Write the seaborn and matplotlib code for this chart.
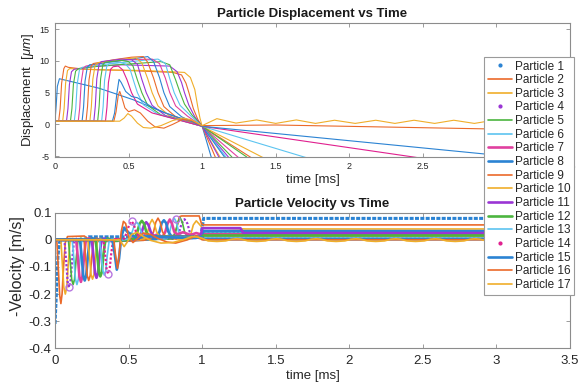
import matplotlib
matplotlib.use("Agg")
import matplotlib.pyplot as plt
from matplotlib.lines import Line2D
import seaborn as sns

sns.set_style("ticks")
plt.rcParams['font.family'] = ['Liberation Sans', 'DejaVu Sans']
plt.rcParams['axes.unicode_minus'] = False
plt.rcParams['mathtext.fontset'] = 'custom'
plt.rcParams['mathtext.it'] = 'Liberation Sans:italic'
plt.rcParams['mathtext.rm'] = 'Liberation Sans'

# --- data: (time [ms], value) knots per particle ---
PARTICLES = ["Particle %d" % i for i in range(1, 18)]

# displacement [um]
P1_DISP = [(0, 0.5), (0.008, 3.0), (0.016, 6.0), (0.03, 7.2), (0.3, 5.7), (0.53, 3.9), (0.76, 1.7),
           (1.0, -0.3), (1.062, -5.2), (1.1, -8.2)]
P2_DISP = [(0, 0.5), (0.025, 0.5), (0.035, 2.5), (0.045, 6.5), (0.06, 8.8), (0.07, 9.2), (0.09, 9.0),
           (0.2, 8.7), (0.5, 8.5), (0.8, 8.2), (0.86, 7.8), (0.89, 6.5), (0.91, 5.0), (0.94, 2.5),
           (0.97, 0.8), (1.0, -0.3), (1.09, -5.2), (1.12, -6.8)]
P3_DISP = [(0, 0.5), (0.052, 0.5), (0.062, 2.5), (0.072, 6.5), (0.085, 8.5), (0.1, 8.8), (0.3, 8.6),
           (0.6, 8.5), (0.88, 8.2), (0.92, 7.4), (0.95, 5.5), (0.97, 2.8), (0.985, 1.0), (1.0, -0.3),
           (1.12, -5.1), (1.15, -6.3)]
P4_DISP = [(0, 0.5), (0.078, 0.5), (0.088, 2.5), (0.098, 6.3), (0.112, 8.3), (0.13, 8.7), (0.25, 9.1),
           (0.45, 9.4), (0.78, 9.2), (0.83, 8.3), (0.86, 6.6), (0.88, 5.0), (0.91, 3.0), (0.95, 1.2),
           (1.0, -0.3), (1.18, -5.2), (1.2, -5.8)]
P5_DISP = [(0, 0.5), (0.105, 0.5), (0.115, 2.5), (0.125, 6.3), (0.14, 8.4), (0.16, 8.8), (0.3, 9.2),
           (0.55, 9.6), (0.72, 9.9), (0.78, 9.4), (0.82, 7.0), (0.85, 5.0), (0.88, 3.2), (0.93, 1.5),
           (1.0, -0.3), (1.2, -5.1), (1.22, -5.8)]
P6_DISP = [(0, 0.5), (0.131, 0.5), (0.141, 2.5), (0.151, 6.4), (0.166, 8.6), (0.185, 9.0), (0.35, 9.5),
           (0.6, 10.1), (0.7, 10.3), (0.75, 9.6), (0.78, 7.2), (0.81, 5.0), (0.85, 3.0), (0.92, 1.4),
           (1.0, -0.3), (1.16, -5.1), (1.18, -5.8)]
P7_DISP = [(0, 0.5), (0.158, 0.5), (0.168, 2.6), (0.178, 6.6), (0.193, 8.9), (0.21, 9.2), (0.35, 9.8),
           (0.5, 10.2), (0.66, 10.3), (0.71, 9.6), (0.75, 7.3), (0.78, 5.0), (0.82, 2.9), (0.9, 1.3),
           (1.0, -0.3), (1.245, -5.2), (1.27, -5.7)]
P8_DISP = [(0, 0.5), (0.184, 0.5), (0.194, 2.7), (0.204, 6.8), (0.219, 9.0), (0.235, 9.4), (0.4, 9.9),
           (0.55, 10.4), (0.63, 10.7), (0.67, 9.9), (0.71, 7.4), (0.74, 5.0), (0.78, 2.8), (0.86, 1.2),
           (1.0, -0.3), (1.15, -5.1), (1.17, -5.9)]
P9_DISP = [(0, 0.5), (0.211, 0.5), (0.221, 2.8), (0.231, 7.0), (0.246, 9.2), (0.26, 9.6), (0.4, 10.2),
           (0.52, 10.6), (0.6, 10.7), (0.63, 9.8), (0.67, 7.3), (0.70, 5.0), (0.74, 2.8), (0.82, 1.2),
           (1.0, -0.3), (1.33, -5.2), (1.35, -5.5)]
P10_DISP = [(0, 0.5), (0.237, 0.5), (0.247, 2.8), (0.257, 7.1), (0.272, 9.3), (0.29, 9.7), (0.42, 10.2),
            (0.55, 10.5), (0.59, 9.7), (0.63, 7.2), (0.66, 5.0), (0.70, 2.9), (0.78, 1.3), (1.0, -0.3),
            (1.41, -5.2), (1.43, -5.5)]
P11_DISP = [(0, 0.5), (0.264, 0.5), (0.274, 2.9), (0.284, 7.2), (0.299, 9.4), (0.315, 9.9), (0.45, 10.3),
            (0.52, 10.2), (0.56, 9.5), (0.59, 7.1), (0.62, 5.0), (0.66, 3.0), (0.75, 1.4), (1.0, -0.3),
            (1.11, -5.0), (1.13, -5.9)]
P12_DISP = [(0, 0.5), (0.29, 0.5), (0.3, 2.9), (0.31, 7.2), (0.325, 9.4), (0.34, 9.8), (0.45, 10.1),
            (0.5, 9.9), (0.53, 9.2), (0.56, 7.0), (0.59, 5.0), (0.63, 3.0), (0.72, 1.5), (1.0, -0.3),
            (1.3, -5.1), (1.32, -5.5)]
P13_DISP = [(0, 0.5), (0.317, 0.5), (0.327, 2.8), (0.337, 7.0), (0.352, 9.2), (0.37, 9.6), (0.44, 9.8),
            (0.48, 9.5), (0.51, 8.7), (0.535, 6.8), (0.56, 5.0), (0.6, 3.1), (0.7, 1.6), (1.0, -0.3),
            (1.7, -5.2), (1.75, -5.5)]
P14_DISP = [(0, 0.5), (0.343, 0.5), (0.353, 2.7), (0.363, 6.6), (0.378, 8.7), (0.395, 9.1), (0.43, 9.2),
            (0.46, 8.6), (0.49, 7.0), (0.52, 5.0), (0.56, 3.2), (0.66, 1.8), (1.0, -0.3), (2.45, -5.2),
            (2.5, -5.4)]
P15_DISP = [(0, 0.5), (0.39, 0.5), (0.405, 1.8), (0.42, 4.8), (0.435, 7.1), (0.45, 6.6), (0.48, 5.2),
            (0.52, 4.4), (0.56, 4.2), (0.6, 3.6), (0.66, 2.7), (0.75, 1.8), (0.85, 1.0), (0.93, 0.5),
            (1.0, -0.3), (3.5, -6.0)]
P16_DISP = [(0, 0.5), (0.40, 0.5), (0.415, 2.0), (0.43, 4.6), (0.44, 5.2), (0.455, 4.2), (0.475, 2.6),
            (0.5, 2.0), (0.54, 2.3), (0.58, 1.8), (0.63, 0.5), (0.68, -0.4), (0.74, -0.6), (0.8, 0.0),
            (0.87, 0.8), (0.93, 0.6), (1.0, -0.2), (1.5, -0.1), (2.9, -0.7), (3.5, -0.9)]
P17_DISP = [(0, 0.5), (0.44, 0.5), (0.47, 1.0), (0.495, 1.7), (0.52, 1.3), (0.56, 0.2), (0.6, -0.5),
            (0.65, -0.6), (0.72, -0.2), (0.8, 0.6), (0.87, 1.0), (0.93, 0.7), (1.0, -0.2), (1.1, 0.9),
            (1.23, 0.2), (1.37, 0.7), (1.5, 0.15), (1.64, 0.7), (1.77, 0.15), (1.9, 0.65), (2.04, 0.15),
            (2.18, 0.65), (2.31, 0.15), (2.44, 0.65), (2.58, 0.15), (2.71, 0.65), (2.85, 0.15),
            (2.98, 0.65), (3.12, 0.15), (3.25, 0.65), (3.38, 0.15), (3.5, 0.6)]

# -velocity [m/s]
P1_VEL = [(0, -0.31), (0.005, -0.25), (0.01, -0.19), (0.015, -0.12), (0.02, -0.06), (0.03, -0.01),
          (0.05, 0.0), (0.2, 0.002), (0.23, 0.011), (0.99, 0.011), (1.01, 0.079), (3.5, 0.079)]
P2_VEL = [(0, 0), (0.012, 0), (0.022, -0.1), (0.032, -0.205), (0.04, -0.235), (0.048, -0.2),
          (0.058, -0.1), (0.07, -0.01), (0.085, 0.012), (0.2, 0.014), (0.22, 0.004), (0.8, 0.004),
          (0.83, 0.05), (0.845, 0.085), (0.86, 0.088), (0.98, 0.088), (0.995, 0.06), (1.01, 0.055),
          (3.5, 0.055)]
P3_VEL = [(0, 0), (0.04, 0), (0.05, -0.09), (0.06, -0.175), (0.07, -0.2), (0.08, -0.175), (0.09, -0.09),
          (0.102, -0.008), (0.12, 0.005), (0.16, -0.003), (0.5, 0.001), (0.9, 0.003), (0.925, 0.025),
          (0.94, 0.055), (0.96, 0.07), (0.98, 0.058), (1.0, 0.045), (1.3, 0.04), (3.5, 0.04)]
P4_VEL = [(0, 0), (0.064, 0), (0.076, -0.08), (0.086, -0.155), (0.095, -0.175), (0.105, -0.155),
          (0.116, -0.08), (0.128, -0.008), (0.15, 0.006), (0.19, -0.004), (0.5, 0.002), (0.82, 0.004),
          (0.845, 0.03), (0.86, 0.06), (0.88, 0.076), (0.9, 0.06), (0.915, 0.03), (0.94, 0.01),
          (0.99, 0.008), (1.01, 0.027), (3.5, 0.027)]
P5_VEL = [(0, 0), (0.091, 0), (0.103, -0.075), (0.113, -0.145), (0.123, -0.165), (0.133, -0.145),
          (0.143, -0.075), (0.155, -0.008), (0.175, 0.006), (0.215, -0.004), (0.5, -0.002), (0.8, 0.004),
          (0.82, 0.03), (0.835, 0.065), (0.85, 0.082), (0.865, 0.065), (0.88, 0.03), (0.9, 0.012),
          (0.99, 0.008), (1.01, 0.024), (3.5, 0.024)]
P6_VEL = [(0, 0), (0.117, 0), (0.129, -0.075), (0.139, -0.145), (0.149, -0.165), (0.159, -0.145),
          (0.169, -0.075), (0.181, -0.008), (0.2, 0.006), (0.24, -0.004), (0.5, -0.003), (0.76, 0.004),
          (0.78, 0.03), (0.795, 0.065), (0.81, 0.08), (0.825, 0.065), (0.84, 0.03), (0.86, 0.012),
          (0.99, 0.009), (1.01, 0.03), (3.5, 0.03)]
P7_VEL = [(0, 0), (0.144, 0), (0.156, -0.07), (0.166, -0.136), (0.176, -0.155), (0.186, -0.136),
          (0.196, -0.07), (0.208, -0.008), (0.228, 0.006), (0.27, -0.004), (0.5, -0.003), (0.55, 0.012),
          (0.6, 0.022), (0.65, 0.012), (0.7, 0.02), (0.73, 0.01), (0.75, 0.03), (0.765, 0.06),
          (0.78, 0.075), (0.795, 0.06), (0.81, 0.03), (0.83, 0.02), (0.87, 0.028), (0.92, 0.018),
          (0.96, 0.025), (0.99, 0.02), (3.5, 0.02)]
P8_VEL = [(0, 0), (0.17, 0), (0.182, -0.068), (0.192, -0.132), (0.202, -0.15), (0.212, -0.132),
          (0.222, -0.068), (0.234, -0.008), (0.254, 0.006), (0.3, -0.004), (0.5, -0.003), (0.69, 0.004),
          (0.71, 0.03), (0.725, 0.062), (0.74, 0.072), (0.755, 0.062), (0.77, 0.03), (0.79, 0.014),
          (0.99, 0.01), (1.01, 0.032), (3.5, 0.032)]
P9_VEL = [(0, 0), (0.197, 0), (0.209, -0.068), (0.219, -0.132), (0.229, -0.15), (0.239, -0.132),
          (0.249, -0.068), (0.261, -0.008), (0.28, 0.006), (0.32, -0.004), (0.6, -0.002), (0.65, 0.004),
          (0.67, 0.03), (0.685, 0.065), (0.70, 0.08), (0.715, 0.065), (0.73, 0.03), (0.75, 0.012),
          (0.99, 0.01), (1.01, 0.015), (3.5, 0.015)]
P10_VEL = [(0, 0), (0.223, 0), (0.235, -0.065), (0.245, -0.128), (0.255, -0.145), (0.265, -0.128),
           (0.275, -0.065), (0.287, -0.008), (0.305, 0.005), (0.35, -0.004), (0.55, -0.002), (0.61, 0.004),
           (0.63, 0.03), (0.645, 0.06), (0.66, 0.075), (0.675, 0.06), (0.69, 0.03), (0.71, 0.012),
           (0.99, 0.01), (1.01, 0.012), (3.5, 0.012)]
P11_VEL = [(0, 0), (0.25, 0), (0.262, -0.063), (0.272, -0.123), (0.282, -0.14), (0.292, -0.123),
           (0.302, -0.063), (0.314, -0.008), (0.332, 0.005), (0.38, -0.004), (0.5, -0.002), (0.57, 0.004),
           (0.59, 0.03), (0.605, 0.055), (0.62, 0.065), (0.635, 0.055), (0.65, 0.03), (0.67, 0.012),
           (0.99, 0.01), (1.0, 0.043), (1.26, 0.043), (1.28, 0.025), (3.5, 0.025)]
P12_VEL = [(0, 0), (0.276, 0), (0.288, -0.06), (0.298, -0.119), (0.308, -0.135), (0.318, -0.119),
           (0.328, -0.06), (0.34, -0.008), (0.358, 0.005), (0.4, -0.004), (0.48, -0.002), (0.54, 0.004),
           (0.56, 0.03), (0.575, 0.06), (0.59, 0.07), (0.605, 0.06), (0.62, 0.03), (0.64, 0.012),
           (0.99, 0.01), (1.01, 0.016), (3.5, 0.016)]
P13_VEL = [(0, 0), (0.303, 0), (0.315, -0.058), (0.325, -0.114), (0.335, -0.13), (0.345, -0.114),
           (0.355, -0.058), (0.367, -0.008), (0.385, 0.004), (0.44, -0.003), (0.505, 0.004), (0.525, 0.03),
           (0.54, 0.055), (0.555, 0.065), (0.57, 0.055), (0.585, 0.03), (0.605, 0.012), (0.99, 0.008),
           (1.01, 0.007), (3.5, 0.007)]
P14_VEL = [(0, 0), (0.329, 0), (0.341, -0.056), (0.351, -0.11), (0.361, -0.125), (0.371, -0.11),
           (0.381, -0.056), (0.393, -0.008), (0.41, 0.003), (0.44, 0.0), (0.47, 0.004), (0.49, 0.03),
           (0.505, 0.058), (0.52, 0.068), (0.535, 0.058), (0.55, 0.03), (0.57, 0.012), (0.99, 0.006),
           (1.01, 0.0034), (3.5, 0.0034)]
P15_VEL = [(0, 0), (0.39, 0), (0.405, -0.05), (0.42, -0.11), (0.435, -0.07), (0.45, 0.01), (0.47, 0.045),
           (0.49, 0.03), (0.52, 0.02), (0.56, 0.005), (0.6, 0.012), (0.66, 0.013), (0.75, 0.01),
           (0.85, 0.008), (0.93, 0.006), (1.0, 0.01), (1.01, 0.0023), (3.5, 0.0023)]
P16_VEL = [(0, 0), (0.40, 0), (0.412, -0.06), (0.425, -0.105), (0.437, -0.05), (0.45, 0.03), (0.465, 0.068),
           (0.48, 0.06), (0.5, 0.01), (0.53, -0.01), (0.56, 0.005), (0.6, 0.025), (0.65, 0.02), (0.7, 0.005),
           (0.76, -0.008), (0.82, -0.012), (0.9, 0.0), (0.96, 0.015), (1.0, 0.0), (1.05, 0.0003),
           (3.5, 0.0003)]
P17_VEL = [(0, 0), (0.44, 0), (0.47, -0.025), (0.495, -0.005), (0.52, 0.02), (0.56, 0.028), (0.6, 0.012),
           (0.65, -0.002), (0.72, -0.012), (0.8, -0.01), (0.87, 0.0), (0.93, 0.012), (0.97, 0.01),
           (1.0, 0.006), (1.04, -0.004), (1.1, -0.006), (1.16, -0.004), (1.2, 0.002), (1.235, 0.004),
           (1.27, 0.002), (1.31, -0.004), (1.37, -0.006), (1.43, -0.004), (1.47, 0.002), (1.505, 0.004),
           (1.54, 0.002), (1.58, -0.004), (1.64, -0.006), (1.7, -0.004), (1.74, 0.002), (1.775, 0.004),
           (1.81, 0.002), (1.85, -0.004), (1.91, -0.006), (1.97, -0.004), (2.01, 0.002), (2.045, 0.004),
           (2.08, 0.002), (2.12, -0.004), (2.18, -0.006), (2.24, -0.004), (2.28, 0.002), (2.315, 0.004),
           (2.35, 0.002), (2.39, -0.004), (2.45, -0.006), (2.51, -0.004), (2.55, 0.002), (2.585, 0.004),
           (2.62, 0.002), (2.66, -0.004), (2.72, -0.006), (2.78, -0.004), (2.82, 0.002), (2.855, 0.004),
           (2.89, 0.002), (2.93, -0.004), (2.99, -0.006), (3.05, -0.004), (3.09, 0.002), (3.125, 0.004),
           (3.16, 0.002), (3.2, -0.004), (3.26, -0.006), (3.32, -0.004), (3.36, 0.002), (3.395, 0.004),
           (3.43, 0.002), (3.47, -0.004), (3.5, -0.005)]

# hollow circle markers in the velocity panel
CIRCLE_T = [0.095, 0.361, 0.52, 0.82]
CIRCLE_V = [-0.175, -0.125, 0.068, 0.077]

DISP = [P1_DISP, P2_DISP, P3_DISP, P4_DISP, P5_DISP, P6_DISP, P7_DISP, P8_DISP, P9_DISP,
        P10_DISP, P11_DISP, P12_DISP, P13_DISP, P14_DISP, P15_DISP, P16_DISP, P17_DISP]
VEL = [P1_VEL, P2_VEL, P3_VEL, P4_VEL, P5_VEL, P6_VEL, P7_VEL, P8_VEL, P9_VEL,
       P10_VEL, P11_VEL, P12_VEL, P13_VEL, P14_VEL, P15_VEL, P16_VEL, P17_VEL]

# --- styles ---
BASE_COLORS = ['#2b83d3', '#eb6a2a', '#f0ae2a', '#9a35d4', '#4cb53f', '#5cc4f0', '#e0409f']
pal = sns.color_palette(BASE_COLORS, len(PARTICLES))
pal[13] = '#e0208f'
DOTTED = [0, 3, 13]
THICK = [6, 7, 10, 11, 14]

fig = plt.figure(figsize=(5.79, 3.88), dpi=100)
ax1 = fig.add_axes([0.095, 0.5962, 0.8895, 0.3454])
ax2 = fig.add_axes([0.095, 0.1023, 0.8895, 0.3495])

for i, pts in enumerate(DISP):
    t, d = zip(*pts)
    sns.lineplot(x=list(t), y=list(d), ax=ax1, color=pal[i], linewidth=0.8,
                 estimator=None, sort=False, legend=False)

for i, pts in enumerate(VEL):
    t, v = zip(*pts)
    if i in DOTTED:
        if i == 0:
            lw, dash = 2.2, (0, (1.3, 0.45))
        else:
            lw, dash = 1.6, (0, (1.0, 0.9))
        sns.lineplot(x=list(t), y=list(v), ax=ax2, color=pal[i], linewidth=lw, linestyle=dash,
                     estimator=None, sort=False, legend=False)
    else:
        lw = 1.9 if i in THICK else 1.2
        sns.lineplot(x=list(t), y=list(v), ax=ax2, color=pal[i], linewidth=lw,
                     estimator=None, sort=False, legend=False)

ax2.plot(CIRCLE_T, CIRCLE_V, ls='none', marker='o', ms=5, mfc='none', mec='#b777e0', mew=1.0)

spine_c = '#8c8c8c'
for ax in (ax1, ax2):
    ax.set_xlim(0, 3.5)
    ax.set_xticks([0, 0.5, 1, 1.5, 2, 2.5, 3, 3.5])
    ax.set_xticklabels(['0', '0.5', '1', '1.5', '2', '2.5', '3', '3.5'])
    for s in ax.spines.values():
        s.set_color(spine_c)
        s.set_linewidth(0.8)
    ax.tick_params(direction='in', top=True, right=True, length=3, color=spine_c,
                   labelcolor='#262626', width=0.6)

ax1.set_ylim(-5.1, 16.05)
ax1.set_yticks([-5, 0, 5, 10, 15])
ax1.tick_params(labelsize=6.5, pad=4)
ax1.set_title('Particle Displacement vs Time', fontsize=9.5, fontweight='bold', pad=4, color='#1a1a1a')
ax1.set_xlabel('time [ms]', fontsize=9.5, color='#262626')
ax1.set_ylabel('Displacement  [$\\mu m$]', fontsize=9.5, color='#262626')
ax1.xaxis.set_label_coords(0.5, -0.13)
ax1.yaxis.set_label_coords(-0.036, 0.5)

ax2.set_ylim(-0.4, 0.1)
ax2.set_yticks([-0.4, -0.3, -0.2, -0.1, 0, 0.1])
ax2.set_yticklabels(['-0.4', '-0.3', '-0.2', '-0.1', '0', '0.1'])
ax2.tick_params(labelsize=9.5)
ax2.tick_params(axis='x', pad=5)
ax2.tick_params(axis='y', pad=2.5)
ax2.set_title('Particle Velocity vs Time', fontsize=9.5, fontweight='bold', pad=4, color='#1a1a1a')
ax2.set_xlabel('time [ms]', fontsize=9.5, color='#262626')
ax2.set_ylabel('-Velocity [m/s]', fontsize=11.5, color='#262626')
ax2.xaxis.set_label_coords(0.5, -0.16)
ax2.yaxis.set_label_coords(-0.058, 0.61)

handles = []
for i in range(len(PARTICLES)):
    if i in DOTTED:
        handles.append(Line2D([], [], ls='none', marker='.', ms=4, color=pal[i]))
    else:
        handles.append(Line2D([], [], color=pal[i], lw=1.9 if i in THICK else 1.2))
leg = fig.legend(handles, PARTICLES, loc='upper left', bbox_to_anchor=(0.8359, 0.8531),
                 fontsize=8.5, frameon=True, fancybox=False, framealpha=1, edgecolor='#9a9a9a',
                 borderpad=0.3, handlelength=2.1, handletextpad=0.25, labelspacing=0.14,
                 borderaxespad=0)
leg.get_frame().set_linewidth(0.8)

fig.savefig('out.png', dpi=100)
